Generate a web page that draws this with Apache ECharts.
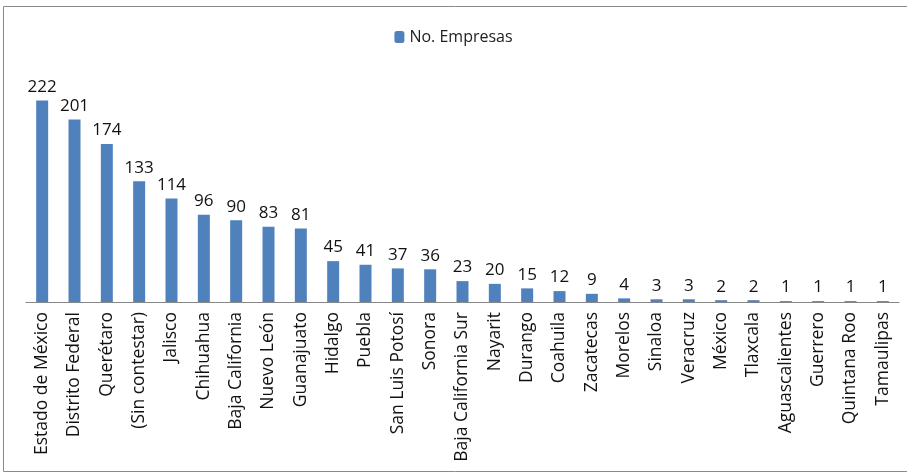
<!DOCTYPE html>
<html>
<head>
<meta charset="utf-8">
<script src="https://cdn.jsdelivr.net/npm/echarts@6/dist/echarts.min.js"></script>
<style>html,body{margin:0;padding:0;background:#fff;}#c{width:907px;height:474px;}</style>
</head>
<body>
<div id="c"></div>
<script>
const categories = ["Estado de México","Distrito Federal","Querétaro","(Sin contestar)","Jalisco","Chihuahua","Baja California","Nuevo León","Guanajuato","Hidalgo","Puebla","San Luis Potosí","Sonora","Baja California Sur","Nayarit","Durango","Coahuila","Zacatecas","Morelos","Sinaloa","Veracruz","México","Tlaxcala","Aguascalientes","Guerrero","Quintana Roo","Tamaulipas"];
const seriesName = "No. Empresas";
const values = [222,201,174,133,114,96,90,83,81,45,41,37,36,23,20,15,12,9,4,3,3,2,2,1,1,1,1];

const chart = echarts.init(document.getElementById('c'), null, {renderer:'canvas'});
chart.setOption({
  animation: false,
  textStyle: {fontFamily: 'Open Sans'},
  graphic: [{
    type: 'rect', shape: {x: 3.5, y: 6.5, width: 920, height: 465},
    style: {fill: 'none', stroke: '#8a8a8a', lineWidth: 1}, silent: true, z: -1
  }],
  legend: {
    data: [seriesName], top: 24, left: 'center',
    itemWidth: 10, itemHeight: 12, itemGap: 4,
    textStyle: {fontSize: 16, color: '#222', fontFamily: 'Open Sans'}
  },
  grid: {left: 26, right: 8, top: 75, bottom: 172, containLabel: false},
  xAxis: {
    type: 'category', data: categories,
    axisLine: {lineStyle: {color: '#868686', width: 1}},
    axisTick: {show: false},
    axisLabel: {rotate: 90, interval: 0, fontSize: 17.5, color: '#111', margin: 10, fontFamily: 'Open Sans'}
  },
  yAxis: {
    type: 'value', min: 0, max: 250, show: false, splitLine: {show: false}
  },
  series: [{
    name: seriesName, type: 'bar', data: values, barWidth: 12,
    itemStyle: {color: '#4f81bd'},
    label: {show: true, position: 'top', distance: 5, fontSize: 17, color: '#111', fontFamily: 'Open Sans'}
  }]
});
</script>
</body>
</html>
